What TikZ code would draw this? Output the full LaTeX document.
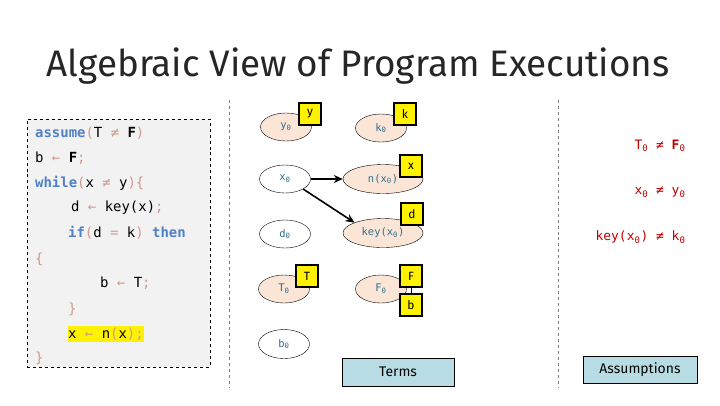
\documentclass[tikz,border=0pt]{standalone}
\usepackage{fontspec}
\setmainfont{Fira Sans}
\setmonofont{DejaVu Sans Mono}
\usepackage{tikz}
\usetikzlibrary{positioning, arrows.meta, shapes.geometric}
\definecolor{kwblue}{HTML}{4F81C7}
\definecolor{punct}{HTML}{D09A8C}
\definecolor{peach}{HTML}{FBE5D6}
\definecolor{termblue}{HTML}{B8DCE4}
\definecolor{lblue}{HTML}{2F6F8F}
\definecolor{assred}{HTML}{C00000}
\definecolor{codebg}{HTML}{F2F2F2}
\newcommand{\kw}[1]{\textcolor{kwblue}{\textbf{#1}}}
\newcommand{\pn}[1]{\textcolor{punct}{#1}}
\newcommand{\zr}[1]{#1\textsubscript{0}}
\tikzset{
  codebox/.style  = {rectangle, draw, dashed, fill=codebg, minimum width=183bp, minimum height=248bp},
  codeline/.style = {anchor=west, inner sep=0pt, font=\ttfamily\fontsize{14}{16}\selectfont},
  term/.style     = {ellipse, draw, minimum width=51bp, minimum height=28bp, inner sep=0pt,
                     font=\ttfamily\fontsize{10.5}{12}\selectfont, text=lblue},
  bterm/.style    = {term, fill=peach},
  wterm/.style    = {term, fill=white},
  varbox/.style   = {rectangle, draw, line width=1.6bp, fill=yellow, minimum size=22bp,
                     inner sep=0pt, font=\fontsize{12}{14}\selectfont},
  legendbox/.style= {rectangle, draw, fill=termblue, minimum height=28bp, font=\fontsize{14}{16}\selectfont},
  fact/.style     = {anchor=east, text=assred, font=\ttfamily\fontsize{13}{15}\selectfont},
  divider/.style  = {gray, dashed, thick},
  arr/.style      = {-{Stealth[length=9bp,width=8bp]}, line width=1.6bp}
}
\begin{document}
\begin{tikzpicture}[x=1bp, y=-1bp]
        \useasboundingbox (0,0) rectangle (720,405);
        \node[font=\fontsize{37}{44}\selectfont, text=black!85] (title) at (358,66) {Algebraic View of Program Executions};

        \node[codebox] (code) at (118.5,243) {};
        \node[codeline] (c1)  at (35,133)  {\kw{assume}\pn{(}T \pn{≠} \textbf{F}\pn{)}};
        \node[codeline] (c2)  at (35,158)  {b \pn{←} \textbf{F}\pn{;}};
        \node[codeline] (c3)  at (35,183)  {\kw{while}\pn{(}x \pn{≠} y\pn{)\{}};
        \node[codeline] (c4)  at (71,208)  {d \pn{←} key(x)\pn{;}};
        \node[codeline] (c5)  at (68,233)  {\kw{if}\pn{(}d \pn{=} k\pn{)} \kw{then}};
        \node[codeline] (c6)  at (35,259)  {\pn{\{}};
        \node[codeline] (c7)  at (100,283) {b \pn{←} T\pn{;}};
        \node[codeline] (c8)  at (68,309)  {\pn{\}}};
        \node[codeline, fill=yellow, inner ysep=2bp] (c9) at (68,334) {x \pn{←} n\pn{(}x\pn{);}};
        \node[codeline] (c10) at (35,358)  {\pn{\}}};

        \coordinate (d1a) at (229,100);
        \coordinate (d1b) at (229,388);
        \coordinate (d2a) at (558,100);
        \coordinate (d2b) at (558,388);
        \draw[divider] (d1a) -- (d1b);
        \draw[divider] (d2a) -- (d2b);

        \node[bterm] (y0)   at (286,127) {\zr{y}};
        \node[bterm] (k0)   at (381,128) {\zr{k}};
        \node[wterm] (x0)   at (285,179) {\zr{x}};
        \node[bterm, minimum width=80bp, minimum height=29bp] (nx0)   at (383,179) {n(\zr{x})};
        \node[wterm] (d0)   at (285,234) {\zr{d}};
        \node[bterm, minimum width=80bp, minimum height=29bp] (keyx0) at (383,233) {key(\zr{x})};
        \node[bterm] (T0)   at (284,289) {\zr{T}};
        \node[bterm] (F0)   at (381,289) {\zr{F}};
        \node[wterm, minimum height=29bp] (b0) at (284,344) {\zr{b}};

        \node[varbox] (yv) at (310,114) {y};
        \node[varbox] (kv) at (405,114) {k};
        \node[varbox] (xv) at (411,166) {x};
        \node[varbox] (dv) at (412,214) {d};
        \node[varbox] (Tv) at (307,276) {T};
        \node[varbox] (Fv) at (411,276) {F};
        \node[varbox] (bv) at (411,305) {b};
        \draw (Fv) -- (bv);

        \draw[arr] (x0) -- (nx0);
        \draw[arr] (x0.south east) -- (keyx0.160);

        \node[legendbox, minimum width=112bp] (terms) at (398,372) {Terms};
        \node[legendbox, minimum width=114bp, minimum height=27bp] (assum) at (640,370) {Assumptions};

        \node[fact] (f1) at (689,146) {\zr{T} ≠ \zr{\textbf{F}}};
        \node[fact] (f2) at (689,192) {\zr{x} ≠ \zr{y}};
        \node[fact] (f3) at (689,237) {key(\zr{x}) ≠ \zr{k}};
      \end{tikzpicture}
\end{document}
